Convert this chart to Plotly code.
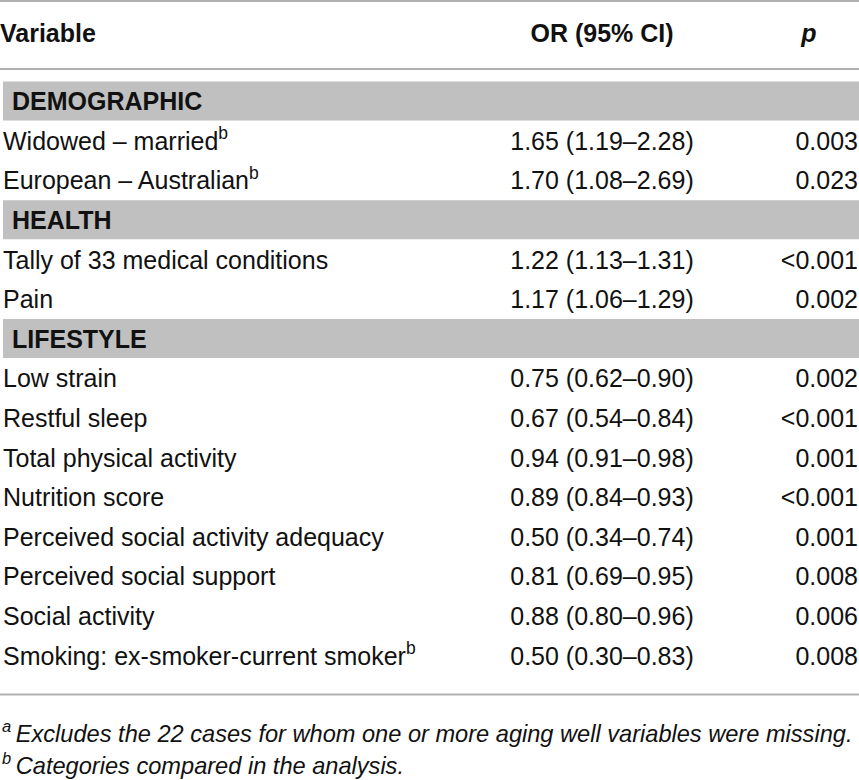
import plotly.graph_objects as go

# table content
columns = ['Variable', 'OR (95% CI)', 'p']
sections = ['DEMOGRAPHIC', 'HEALTH', 'LIFESTYLE']
variables = [
    ['Widowed – married<sup>b</sup>', 'European – Australian<sup>b</sup>'],
    ['Tally of 33 medical conditions', 'Pain'],
    ['Low strain', 'Restful sleep', 'Total physical activity', 'Nutrition score',
     'Perceived social activity adequacy', 'Perceived social support',
     'Social activity', 'Smoking: ex-smoker-current smoker<sup>b</sup>'],
]
odds_ratios = [
    ['1.65 (1.19–2.28)', '1.70 (1.08–2.69)'],
    ['1.22 (1.13–1.31)', '1.17 (1.06–1.29)'],
    ['0.75 (0.62–0.90)', '0.67 (0.54–0.84)', '0.94 (0.91–0.98)', '0.89 (0.84–0.93)',
     '0.50 (0.34–0.74)', '0.81 (0.69–0.95)', '0.88 (0.80–0.96)', '0.50 (0.30–0.83)'],
]
p_values = [
    ['0.003', '0.023'],
    ['<0.001', '0.002'],
    ['0.002', '<0.001', '0.001', '<0.001', '0.001', '0.008', '0.006', '0.008'],
]
footnotes = [
    '<sup>a </sup>Excludes the 22 cases for whom one or more aging well variables were missing.',
    '<sup>b </sup>Categories compared in the analysis.',
]

W, H = 859, 780
FONT = 'Liberation Sans'
SIZE = 25
TEXT = '#111111'
BAND = '#c0c0c0'
RULE = '#b0b0b0'

X_LEFT, X_OR, X_P = 3, 602, 858
HEADER_Y = 33
FIRST_Y = 101
STEP = 39.6
BAND_H = 39
DY = 3  # text sits a touch high against its anchor

# work out row positions from the row order
var_y, var_t = [], []
or_y, or_t, p_y, p_t = [], [], [], []
sec_y = []
y = FIRST_Y
for s, name in enumerate(sections):
    sec_y.append(y)
    y += STEP
    for v, o, p in zip(variables[s], odds_ratios[s], p_values[s]):
        var_y.append(y + DY); var_t.append(v)
        or_y.append(y + DY); or_t.append(o)
        p_y.append(y + DY); p_t.append(p.replace('<', '&lt;'))
        y += STEP
last_row = y - STEP
rule_y = last_row + 39

fig = go.Figure()

shapes = [
    dict(type='line', x0=0, x1=W, y0=1, y1=1, line=dict(color=RULE, width=2)),
    dict(type='line', x0=0, x1=W, y0=69, y1=69, line=dict(color=RULE, width=2)),
    dict(type='line', x0=0, x1=W, y0=rule_y, y1=rule_y, line=dict(color=RULE, width=2)),
]
for sy in sec_y:
    shapes.append(dict(type='rect', x0=3, x1=W, y0=sy - BAND_H / 2, y1=sy + BAND_H / 2,
                       fillcolor=BAND, line=dict(width=0), layer='below'))

base_font = dict(family=FONT, size=SIZE, color=TEXT)
bold_font = dict(family=FONT, size=SIZE, color=TEXT, weight=700)
note_font = dict(family=FONT, size=23.6, color=TEXT)

# header
fig.add_trace(go.Scatter(x=[0], y=[HEADER_Y + DY], text=[columns[0]], mode='text',
                         textposition='middle right', textfont=bold_font))
fig.add_trace(go.Scatter(x=[X_OR], y=[HEADER_Y + DY], text=[columns[1]], mode='text',
                         textposition='middle center', textfont=bold_font))
fig.add_trace(go.Scatter(x=[809], y=[HEADER_Y + DY], text=['<i>' + columns[2] + '</i>'], mode='text',
                         textposition='middle center', textfont=bold_font))

# section labels
fig.add_trace(go.Scatter(x=[12] * len(sections), y=[s + DY for s in sec_y], text=sections, mode='text',
                         textposition='middle right', textfont=bold_font))

# body
fig.add_trace(go.Scatter(x=[X_LEFT] * len(var_t), y=var_y, text=var_t, mode='text',
                         textposition='middle right', textfont=base_font))
fig.add_trace(go.Scatter(x=[X_OR] * len(or_t), y=or_y, text=or_t, mode='text',
                         textposition='middle center', textfont=base_font))
fig.add_trace(go.Scatter(x=[X_P] * len(p_t), y=p_y, text=p_t, mode='text',
                         textposition='middle left', textfont=base_font))

# footnotes
fig.add_trace(go.Scatter(x=[2, 2], y=[rule_y + 39 + DY, rule_y + 71 + DY],
                         text=['<i>' + f + '</i>' for f in footnotes], mode='text',
                         textposition='middle right', textfont=note_font))

fig.update_layout(
    width=W, height=H,
    margin=dict(l=0, r=0, t=0, b=0),
    paper_bgcolor='white', plot_bgcolor='white',
    showlegend=False,
    shapes=shapes,
    hovermode=False,
)
fig.update_xaxes(range=[0, W], visible=False, fixedrange=True)
fig.update_yaxes(range=[H, 0], visible=False, fixedrange=True)

# page body has a default 8px margin, drop it so the figure sits at the corner
fig.write_html('out.html', config={'displayModeBar': False},
               post_script="document.body.style.margin='0';")
